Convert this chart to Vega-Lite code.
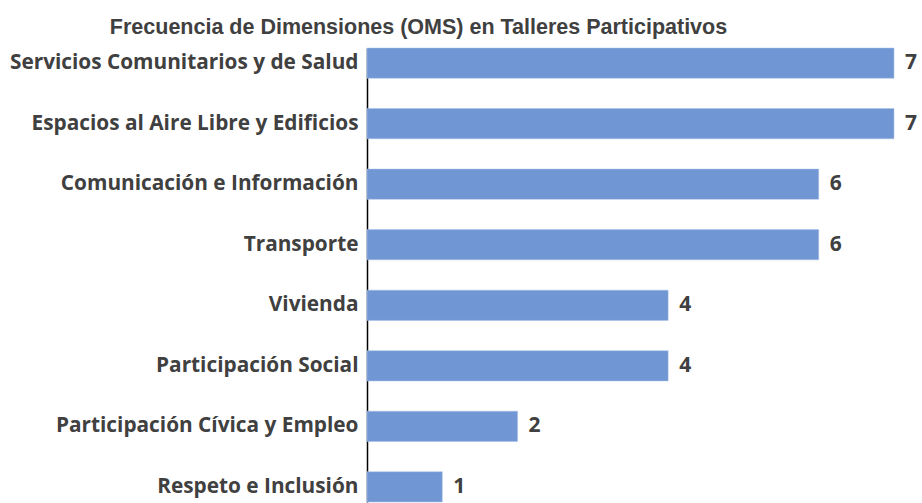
{
  "$schema": "https://vega.github.io/schema/vega-lite/v6.json",
  "autosize": {"type": "none"},
  "padding": {"left": 367, "top": 48, "right": 28, "bottom": 2},
  "width": 527,
  "height": 454,
  "background": "white",
  "title": {
    "text": "Frecuencia de Dimensiones (OMS) en Talleres Participativos",
    "anchor": "middle",
    "dx": -212,
    "dy": 25,
    "offset": 17,
    "baseline": "alphabetic",
    "font": "Liberation Sans",
    "fontSize": 21.5,
    "fontWeight": "bold",
    "color": "#404040"
  },
  "data": {
    "values": [
      {"dimension": "Servicios Comunitarios y de Salud", "count": 7},
      {"dimension": "Espacios al Aire Libre y Edificios", "count": 7},
      {"dimension": "Comunicación e Información", "count": 6},
      {"dimension": "Transporte", "count": 6},
      {"dimension": "Vivienda", "count": 4},
      {"dimension": "Participación Social", "count": 4},
      {"dimension": "Participación Cívica y Empleo", "count": 2},
      {"dimension": "Respeto e Inclusión", "count": 1}
    ]
  },
  "encoding": {
    "y": {
      "field": "dimension",
      "type": "nominal",
      "sort": null,
      "scale": {"paddingInner": 0.5, "paddingOuter": 0},
      "axis": {
        "title": null,
        "ticks": false,
        "domain": true,
        "domainColor": "#000000",
        "domainWidth": 1.5,
        "labelFont": "Open Sans",
        "labelFontSize": 20.8,
        "labelFontWeight": "bold",
        "labelColor": "#404040",
        "labelPadding": 9,
        "labelLimit": 400
      }
    },
    "x": {
      "field": "count",
      "type": "quantitative",
      "scale": {"domain": [0, 7]},
      "axis": null
    }
  },
  "layer": [
    {"mark": {"type": "bar", "color": "#7096d4", "stroke": "#a9c0e6", "strokeWidth": 0.5}},
    {
      "mark": {
        "type": "text",
        "align": "left",
        "baseline": "middle",
        "dx": 11,
        "font": "Open Sans",
        "fontSize": 21,
        "fontWeight": "bold",
        "color": "#404040"
      },
      "encoding": {"text": {"field": "count", "type": "quantitative"}}
    }
  ],
  "config": {"view": {"stroke": null}}
}
